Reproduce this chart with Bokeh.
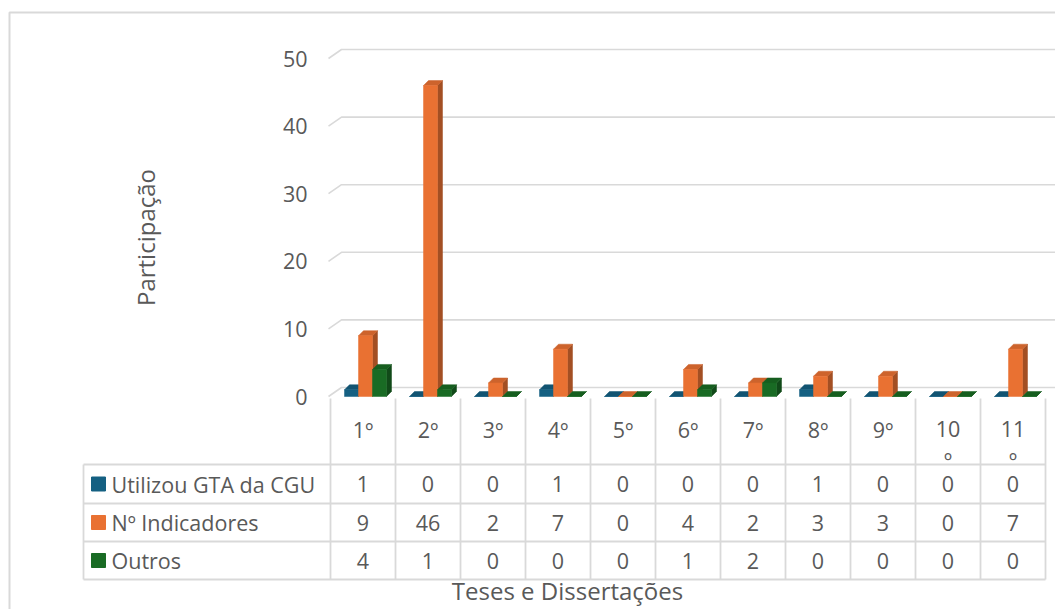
import numpy as np
from bokeh.plotting import figure
from bokeh.models import Range1d
from bokeh.embed import file_html
from bokeh.resources import INLINE
from bokeh.core.properties import value

# ---------------- data ----------------
categories = ["1º", "2º", "3º", "4º", "5º", "6º", "7º", "8º", "9º", "10º", "11º"]
series_names = ["Utilizou GTA da CGU", "Nº Indicadores", "Outros"]
utilizou = [1, 0, 0, 1, 0, 0, 0, 1, 0, 0, 0]
indicadores = [9, 46, 2, 7, 0, 4, 2, 3, 3, 0, 7]
outros = [4, 1, 0, 0, 0, 1, 2, 0, 0, 0, 0]
y_ticks = [0, 10, 20, 30, 40, 50]
x_title = "Teses e Dissertações"
y_title = "Participação"

# ---------------- style ----------------
FONT = "Open Sans"
FS = "21.5px"
FS_T = "24px"
TXT = "#595959"
GRID = "#d9d9d9"
colors = ["#156082", "#E97132", "#196B24"]


def shade(hexc, f):
    h = hexc.lstrip("#")
    r, g, b = (int(h[i:i + 2], 16) for i in (0, 2, 4))
    return "#%02x%02x%02x" % (int(r * f), int(g * f), int(b * f))


OFF = 0                # page offset of the canvas
WF, HF = 1055, 609
CAT = 65.0             # pixels per category
X0 = 330.0             # page x where first category starts
PXU = 6.76             # pixels per value unit
ZERO = 396.0           # page y of value 0 (front)
TAB0 = 398.0           # page y of table top


def xd(px):            # page x -> data x
    return (px - X0) / CAT


def vd(py):            # page y -> value units
    return (ZERO - py) / PXU


p = figure(width=WF, height=HF,
           x_range=Range1d(xd(OFF), xd(OFF + WF)),
           y_range=Range1d(vd(OFF + HF), vd(OFF)),
           output_backend="svg", toolbar_location=None,
           x_axis_location=None, y_axis_location=None, min_border=0)
p.extra_y_ranges = {"table": Range1d(start=OFF + HF - TAB0, end=OFF - TAB0)}
p.outline_line_color = None
p.grid.visible = False
p.background_fill_color = "white"
p.border_fill_color = "white"

# chart-area border
p.line(x=[xd(9), xd(9), xd(OFF + WF + 5)], y=[HF + 20, -386, -386], y_range_name="table",
       line_color="#d9d9d9", line_width=2)

# ---------------- 3D column chart ----------------
x_left = xd(328)
g_dx = 13.0 / CAT
g_dy = 9.0 / PXU
g_xs = [[x_left, x_left + g_dx, xd(1057)] for t in y_ticks]
g_ys = [[t, t + g_dy, t + g_dy] for t in y_ticks]
p.multi_line(g_xs, g_ys, line_color=GRID, line_width=1.6)

# y tick labels
p.text(x=[xd(307)] * len(y_ticks), y=y_ticks, text=[str(t) for t in y_ticks],
       text_align="right", text_baseline="middle",
       text_font=value(FONT), text_font_size=FS, text_color=TXT)

# y title
p.text(x=[xd(145)], y=[vd(237)], text=[y_title], angle=np.pi / 2,
       text_align="center", text_baseline="middle",
       text_font=value(FONT), text_font_size=FS_T, text_color=TXT)

bw = 0.2154
off0 = 0.2154
dx = 5.0 / CAT
dy = 5.0 / PXU
series = [utilizou, indicadores, outros]
xs, ys, fc = [], [], []
for i in range(len(categories)):
    for s, vals in enumerate(series):
        v = vals[i]
        l = i + off0 + s * bw
        r = l + bw
        c = colors[s]
        xs.append([r, r + dx, r + dx, r]); ys.append([0, dy, v + dy, v]); fc.append(shade(c, 0.70))
        xs.append([l, r, r + dx, l + dx]); ys.append([v, v, v + dy, v + dy]); fc.append(shade(c, 0.88))
        xs.append([l, r, r, l]); ys.append([0, 0, v, v]); fc.append(c)
p.patches(xs=xs, ys=ys, fill_color=fc, line_color=fc, line_width=0.5)

# ---------------- data table ----------------
n = len(categories)
left_edge = xd(83)
row_lines = [66, 105, 143, 181]
row_centers = [(row_lines[k] + row_lines[k + 1]) / 2 for k in range(3)]
lx = [[left_edge, n] for _ in row_lines]
ly = [[y, y] for y in row_lines]
lx.append([left_edge, left_edge]); ly.append([row_lines[0], row_lines[-1]])
for k in range(n + 1):
    lx.append([k, k]); ly.append([0, row_lines[-1]])
p.multi_line(lx, ly, y_range_name="table", line_color=GRID, line_width=1.8)

p.scatter(x=[xd(98)] * 3, y=row_centers, y_range_name="table", marker="square", size=14,
          fill_color=colors, line_color=colors)
p.text(x=[xd(111)] * 3, y=row_centers, y_range_name="table", text=series_names,
       text_align="left", text_baseline="middle",
       text_font=value(FONT), text_font_size=FS, text_color=TXT)

vx, vy, vt = [], [], []
for s, vals in enumerate(series):
    for i, v in enumerate(vals):
        vx.append(i + 0.5); vy.append(row_centers[s]); vt.append(str(v))
p.text(x=vx, y=vy, y_range_name="table", text=vt, text_align="center", text_baseline="middle",
       text_font=value(FONT), text_font_size=FS, text_color=TXT)

# category labels (the long ones wrap inside their cell)
l1 = [c if len(c) <= 2 else c[:-1] for c in categories]
l2 = ["" if len(c) <= 2 else c[-1] for c in categories]
cx = [i + 0.5 for i in range(n)]
p.text(x=cx, y=[30.7] * n, y_range_name="table", text=l1, text_align="center",
       text_baseline="alphabetic", text_font=value(FONT), text_font_size=FS, text_color=TXT)
p.text(x=cx, y=[61] * n, y_range_name="table", text=l2, text_align="center",
       text_baseline="alphabetic", text_font=value(FONT), text_font_size=FS, text_color=TXT)

# x title
p.text(x=[xd(567)], y=[192], y_range_name="table", text=[x_title], text_align="center",
       text_baseline="middle", text_font=value(FONT), text_font_size=FS_T, text_color=TXT)

open("out.html", "w").write(file_html(p, INLINE))
